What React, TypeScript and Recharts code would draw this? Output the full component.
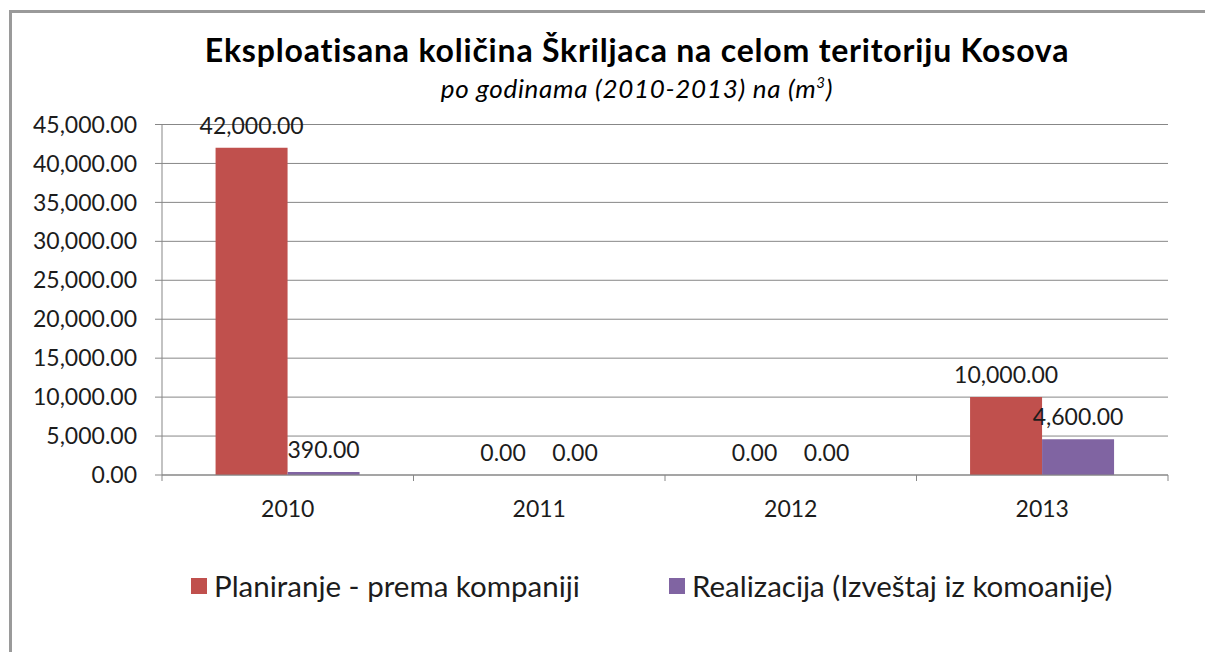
import { Bar, BarChart, CartesianGrid, LabelList, Legend, XAxis, YAxis } from "recharts"

const years = ["2010", "2011", "2012", "2013"]
const planned = [42000, 0, 0, 10000]
const realized = [390, 0, 0, 4600]
const yTicks = [0, 5000, 10000, 15000, 20000, 25000, 30000, 35000, 40000, 45000]
const seriesNames = ["Planiranje - prema kompaniji", "Realizacija (Izveštaj iz komoanije)"]
const seriesColors = ["#C0504D", "#8064A2"]

const titleText = "Eksploatisana količina Škriljaca na celom teritoriju Kosova"
const subtitleText = "po godinama (2010-2013) na (m"

const data = years.map((year, i) => ({
  year,
  planned: planned[i],
  realized: realized[i],
}))

const W = 1205
const H = 652
const PLOT_LEFT = 162
const PLOT_RIGHT = 1168
const PLOT_TOP = 124.5
const PLOT_BOTTOM = 475
const PLOT_W = PLOT_RIGHT - PLOT_LEFT

const FONT = "Lato, 'Noto Sans', sans-serif"
const TEXT = "#1c1c1c"
const GRID = "#878787"

const fmt = (v: number) =>
  v.toLocaleString("en-US", { minimumFractionDigits: 2, maximumFractionDigits: 2 })

type TickProps = {
  x?: number
  y?: number
  index?: number
  payload?: { value: string }
}

const YearTick = ({ x = 0, y = 0, index = 0, payload }: TickProps) => {
  const band = PLOT_W / years.length
  return (
    <g>
      <text x={x} y={y + 42} textAnchor="middle" fill={TEXT} fontSize={23} fontFamily={FONT}>
        {payload?.value}
      </text>
      <line x1={x - band / 2} x2={x - band / 2} y1={y} y2={y + 6} stroke={GRID} />
      {index === years.length - 1 && (
        <line x1={x + band / 2} x2={x + band / 2} y1={y} y2={y + 6} stroke={GRID} />
      )}
    </g>
  )
}

const BarValueLabel = (props: any) => {
  const x = Number(props.x)
  const y = Number(props.y)
  const width = Number(props.width)
  return (
    <text x={x + width / 2} y={y - 14} textAnchor="middle" fill={TEXT} fontSize={23} fontFamily={FONT}>
      {fmt(Number(props.value))}
    </text>
  )
}

const LegendContent = () => {
  const lefts = [191, 669]
  return (
    <div style={{ position: "relative", width: W, height: 34 }}>
      {seriesNames.map((name, i) => (
        <div
          key={name}
          style={{
            position: "absolute",
            left: lefts[i],
            top: 0,
            display: "flex",
            alignItems: "center",
            whiteSpace: "nowrap",
          }}
        >
          <span style={{ width: 16, height: 16, background: seriesColors[i], marginRight: 7 }} />
          <span style={{ fontFamily: FONT, fontSize: 29.5, color: TEXT, lineHeight: "34px" }}>{name}</span>
        </div>
      ))}
    </div>
  )
}

export default function App() {
  return (
    <div style={{ position: "fixed", left: 0, top: 0, width: W, height: H, background: "#fff", overflow: "hidden" }}>
      <div
        style={{
          position: "absolute",
          left: 9,
          top: 10,
          width: W + 100,
          height: H + 100,
          border: "3px solid #9a9a9a",
          boxSizing: "border-box",
        }}
      />
      <svg width={W} height={110} style={{ position: "absolute", left: 0, top: 0 }}>
        <text
          x={637}
          y={62}
          textAnchor="middle"
          fontFamily={FONT}
          fontWeight={700}
          fontSize={32}
          letterSpacing={0.8}
          fill="#000"
        >
          {titleText}
        </text>
        <text
          x={637}
          y={98}
          textAnchor="middle"
          fontFamily={FONT}
          fontStyle="italic"
          fontSize={26}
          letterSpacing={0.7}
          fill="#000"
        >
          {subtitleText}
          <tspan dy={-10} fontSize={15}>3</tspan>
          <tspan dy={10}>)</tspan>
        </text>
      </svg>
      <div style={{ position: "absolute", left: 0, top: 0 }}>
        <BarChart
          width={W}
          height={H}
          data={data}
          margin={{ top: PLOT_TOP, right: W - PLOT_RIGHT, bottom: H - PLOT_BOTTOM - 30, left: PLOT_LEFT - 150 }}
          barCategoryGap="21.3%"
          barGap={0}
        >
          <CartesianGrid vertical={false} stroke={GRID} strokeWidth={1} />
          <XAxis
            dataKey="year"
            height={30}
            axisLine={{ stroke: GRID }}
            tickLine={false}
            tickSize={0}
            tickMargin={0}
            tick={<YearTick />}
            interval={0}
          />
          <YAxis
            width={150}
            domain={[0, 45000]}
            ticks={yTicks}
            tickFormatter={fmt}
            axisLine={{ stroke: GRID }}
            tickLine={{ stroke: GRID }}
            tickSize={7}
            tickMargin={18}
            tick={{ fill: TEXT, fontSize: 23, fontFamily: FONT }}
            interval={0}
          />
          <Legend
            verticalAlign="middle"
            layout="horizontal"
            content={<LegendContent />}
            wrapperStyle={{ top: 569, left: 0, width: W }}
          />
          <Bar
            dataKey="planned"
            name={seriesNames[0]}
            fill={seriesColors[0]}
            minPointSize={0.01}
            isAnimationActive={false}
          >
            <LabelList dataKey="planned" content={<BarValueLabel />} />
          </Bar>
          <Bar
            dataKey="realized"
            name={seriesNames[1]}
            fill={seriesColors[1]}
            minPointSize={0.01}
            isAnimationActive={false}
          >
            <LabelList dataKey="realized" content={<BarValueLabel />} />
          </Bar>
        </BarChart>
      </div>
    </div>
  )
}
